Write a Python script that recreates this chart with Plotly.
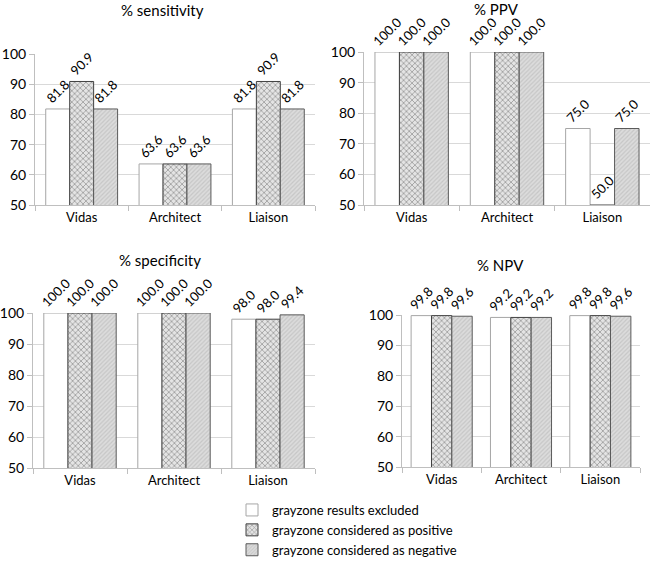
import plotly.graph_objects as go

# data
categories = ["Vidas", "Architect", "Liaison"]
series_names = [
    "grayzone results excluded",
    "grayzone considered as positive",
    "grayzone considered as negative",
]

sens_excluded = [81.8, 63.6, 81.8]
sens_positive = [90.9, 63.6, 90.9]
sens_negative = [81.8, 63.6, 81.8]

ppv_excluded = [100.0, 100.0, 75.0]
ppv_positive = [100.0, 100.0, 50.0]
ppv_negative = [100.0, 100.0, 75.0]

spec_excluded = [100.0, 100.0, 98.0]
spec_positive = [100.0, 100.0, 98.0]
spec_negative = [100.0, 100.0, 99.4]

npv_excluded = [99.8, 99.2, 99.8]
npv_positive = [99.8, 99.2, 99.8]
npv_negative = [99.6, 99.2, 99.6]

y_ticks = [50, 60, 70, 80, 90, 100]

FONT = "Lato, 'Open Sans', sans-serif"

# bar styles for the three series
styles = [
    dict(color="white", line=dict(color="#a6a6a6", width=1)),
    dict(color="#c8c8c8", line=dict(color="#404040", width=1),
         pattern=dict(shape="x", fgcolor="#4a4a4a", bgcolor="#e4e4e4", size=4, solidity=0.35)),
    dict(color="#d6d6d6", line=dict(color="#5a5a5a", width=1),
         pattern=dict(shape="/", fgcolor="#b0b0b0", bgcolor="#dcdcdc", size=3, solidity=0.4)),
]

panels = [
    ("% sensitivity", [sens_excluded, sens_positive, sens_negative]),
    ("% PPV", [ppv_excluded, ppv_positive, ppv_negative]),
    ("% specificity", [spec_excluded, spec_positive, spec_negative]),
    ("% NPV", [npv_excluded, npv_positive, npv_negative]),
]

# pixel geometry of each panel: x0, x1, ytop, ybottom
W, H = 650, 561
boxes = [
    (35, 315, 54, 205),
    (364, 650, 52, 205),
    (33, 315, 313, 468),
    (402, 640, 315, 467),
]
title_pos = [(162, 10), (496, 9), (160, 260), (500, 265)]

fig = go.Figure()
layout_axes = {}
annotations = []

for i, (title, values) in enumerate(panels):
    n = "" if i == 0 else str(i + 1)
    x0, x1, yt, yb = boxes[i]
    for j, vals in enumerate(values):
        fig.add_trace(go.Bar(
            x=categories, y=vals, name=series_names[j],
            xaxis="x" + n, yaxis="y" + n,
            marker=styles[j],
            texttemplate="%{y:.1f}", textposition="outside", textangle=-45,
            textfont=dict(family=FONT, size=13, color="black"),
            constraintext="none", cliponaxis=False,
            showlegend=(i == 0), hoverinfo="x+y",
        ))
    layout_axes["xaxis" + n] = dict(
        domain=[x0 / W, x1 / W], anchor="y" + n, automargin=False,
        showline=True, linecolor="#bfbfbf", ticks="outside", tickson="boundaries",
        ticklen=5, tickcolor="#bfbfbf",
        tickfont=dict(family=FONT, size=13, color="black"),
    )
    layout_axes["yaxis" + n] = dict(
        domain=[1 - yb / H, 1 - yt / H], anchor="x" + n, automargin=False,
        range=[50, 100], tickvals=y_ticks,
        showline=True, linecolor="#bfbfbf", ticks="outside", ticklen=5, tickcolor="#bfbfbf",
        showgrid=True, gridcolor="#d9d9d9", zeroline=False,
        tickfont=dict(family=FONT, size=14, color="black"),
    )
    tx, ty = title_pos[i]
    annotations.append(dict(
        text=title, x=tx / W, y=1 - ty / H, xref="paper", yref="paper",
        xanchor="center", yanchor="middle", showarrow=False,
        font=dict(family=FONT, size=15, color="black"),
    ))

fig.update_layout(
    width=W, height=H,
    margin=dict(l=0, r=0, t=0, b=0, autoexpand=False),
    paper_bgcolor="white", plot_bgcolor="white",
    barmode="group", bargap=0.23, bargroupgap=0,
    annotations=annotations,
    legend=dict(
        x=232 / W, y=1 - 495 / H, xanchor="left", yanchor="top",
        font=dict(family=FONT, size=13, color="black"),
        tracegroupgap=0, itemwidth=30,
    ),
    **layout_axes,
)

fig.write_html("out.html", config={"displayModeBar": False},
               post_script="document.body.style.margin='0';")
